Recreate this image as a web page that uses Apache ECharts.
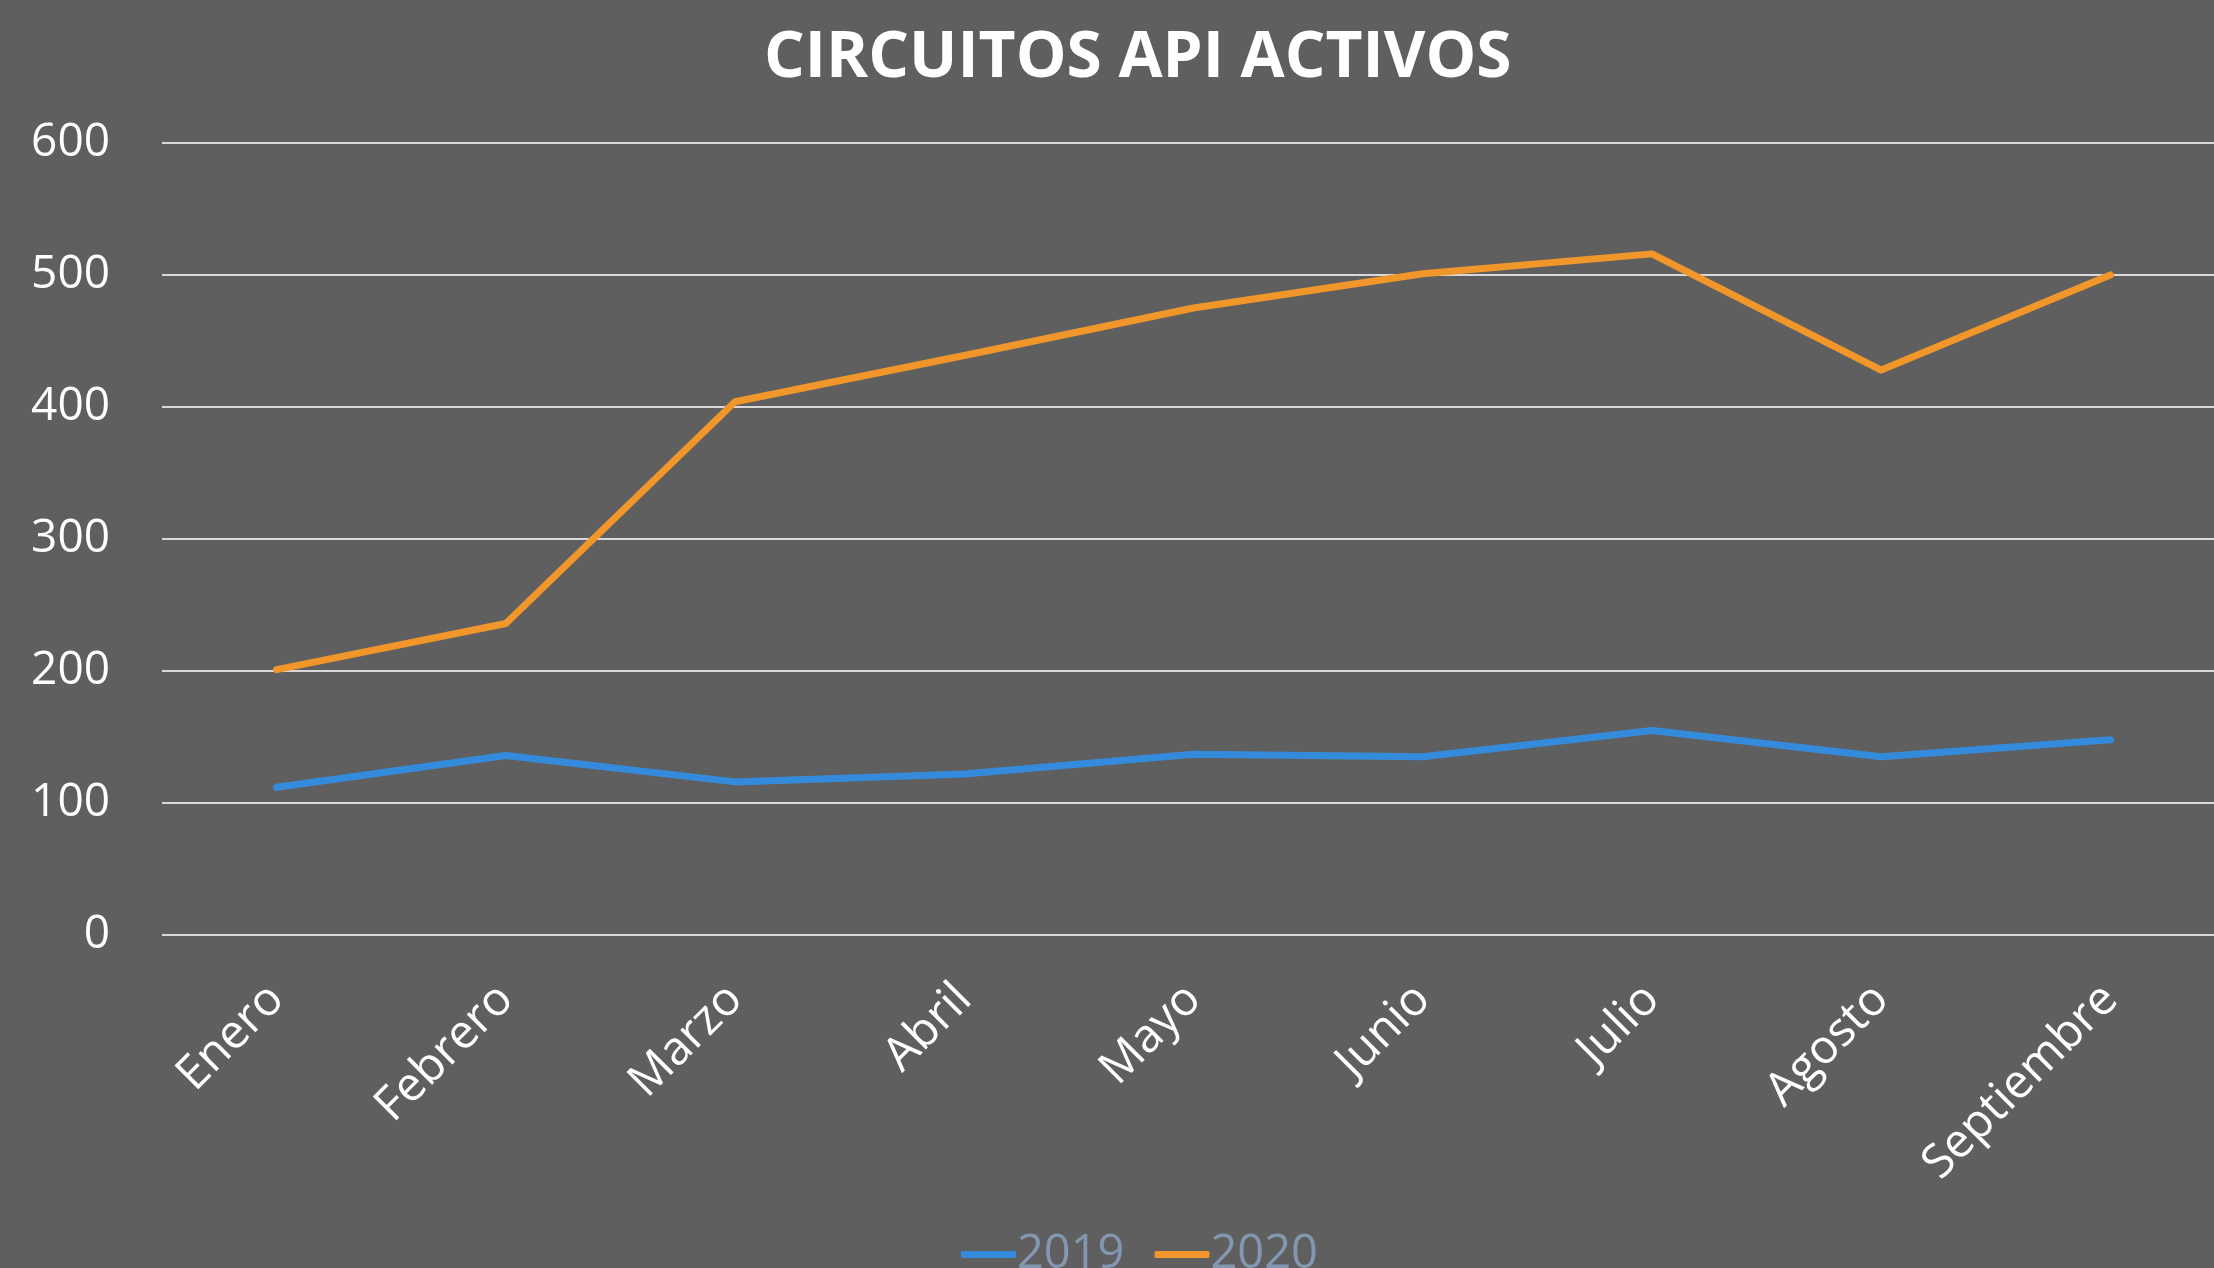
<!DOCTYPE html>
<html>
<head>
<meta charset="utf-8">
<script src="https://cdn.jsdelivr.net/npm/echarts@6/dist/echarts.min.js"></script>
<style>
html,body{margin:0;padding:0;background:#5f5f5f;}
#chart{width:2214px;height:1268px;}
</style>
</head>
<body>
<div id="chart"></div>
<script>
const titleText = 'CIRCUITOS API ACTIVOS';
const categories = ['Enero','Febrero','Marzo','Abril','Mayo','Junio','Julio','Agosto','Septiembre'];
const seriesNames = ['2019','2020'];
const values2019 = [112, 136, 116, 122, 137, 135, 155, 135, 148];
const values2020 = [201, 236, 404, 439, 475, 501, 516, 428, 500];
const yTicks = [0, 100, 200, 300, 400, 500, 600];

const chart = echarts.init(document.getElementById('chart'));
const font = '"Open Sans", "DejaVu Sans", sans-serif';
chart.setOption({
  backgroundColor: '#5f5f5f',
  animation: false,
  title: {
    text: titleText,
    left: 759,
    top: 22,
    textStyle: {color: '#ffffff', fontFamily: font, fontWeight: 'bold', fontSize: 64}
  },
  legend: {
    data: seriesNames,
    left: 956,
    top: 1226,
    itemWidth: 55,
    itemHeight: 7,
    itemGap: 30,
    icon: 'roundRect',
    textStyle: {color: '#8497b0', fontFamily: font, fontSize: 47, padding: [0,0,0,-4]}
  },
  grid: {left: 162, top: 143, width: 2063, height: 792, containLabel: false, outerBoundsMode: 'none'},
  xAxis: {
    type: 'category',
    data: categories,
    boundaryGap: true,
    axisLine: {show: false},
    axisTick: {show: false},
    axisLabel: {color: '#ffffff', fontFamily: font, fontSize: 47, rotate: 45, margin: 57, interval: 0}
  },
  yAxis: {
    type: 'value',
    min: yTicks[0],
    max: yTicks[yTicks.length-1],
    interval: yTicks[1]-yTicks[0],
    axisLine: {show: false},
    axisTick: {show: false},
    axisLabel: {color: '#ffffff', fontFamily: font, fontSize: 46, margin: 52},
    splitLine: {lineStyle: {color: '#d9d9d9', width: 2}}
  },
  series: [
    {name: seriesNames[0], type: 'line', data: values2019, symbol: 'none', color: '#348bdc',
     lineStyle: {width: 7, color: '#348bdc', cap: 'round', join: 'round'}},
    {name: seriesNames[1], type: 'line', data: values2020, symbol: 'none', color: '#f0962a',
     lineStyle: {width: 7, color: '#f0962a', cap: 'round', join: 'round'}}
  ]
});
</script>
</body>
</html>
